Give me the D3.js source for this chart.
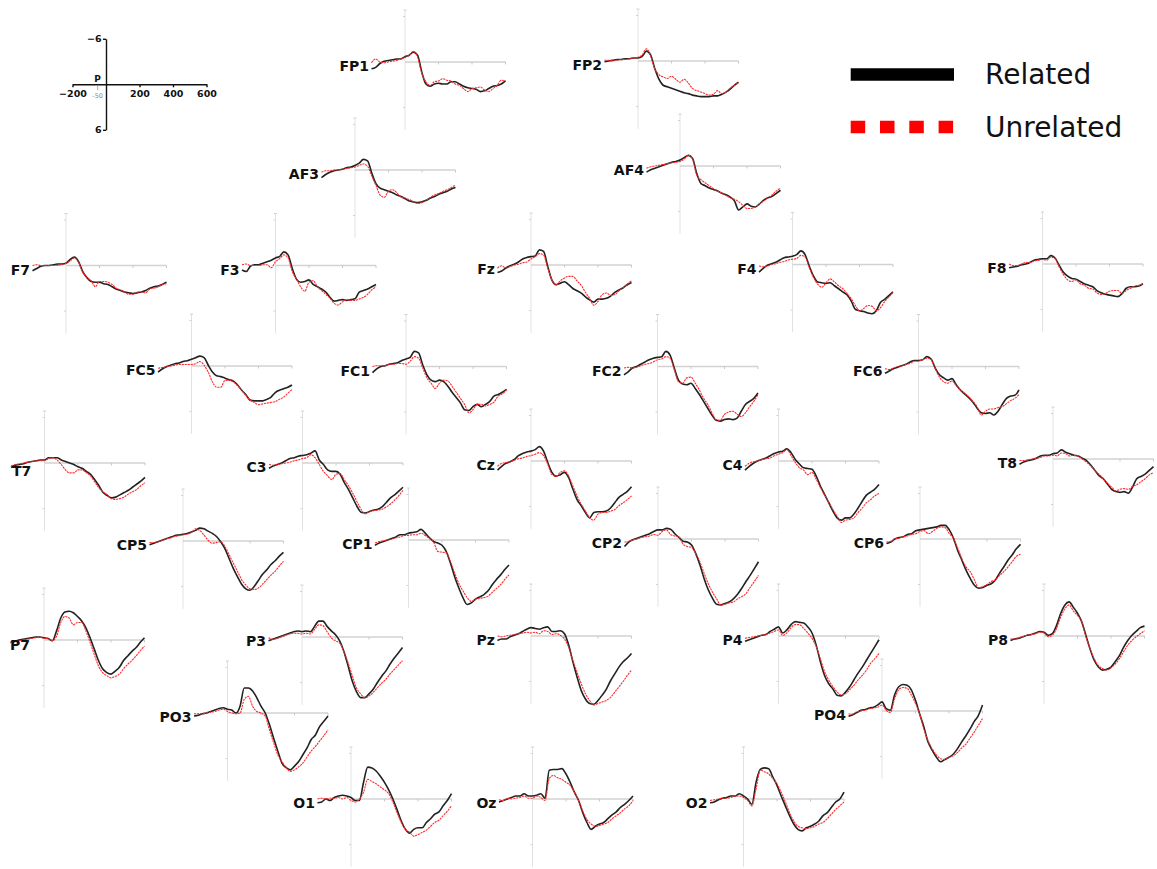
<!DOCTYPE html>
<html>
<head>
<meta charset="utf-8">
<script src="https://cdn.jsdelivr.net/npm/d3@7"></script>
<style>
  html, body { margin: 0; padding: 0; background: #fff; }
  svg { display: block; }
</style>
</head>
<body>
<svg id="chart" width="1157" height="869"></svg>
<script>
// Sampling grid (ms)
const times = [-200, -175, -150, -125, -100, -75, -50, -25, 0, 25, 50, 75, 100, 125, 150, 175, 200,
               225, 250, 275, 300, 325, 350, 375, 400, 425, 450, 475, 500, 525, 550, 575, 600];

const channels = ["FP1", "FP2", "AF3", "AF4", "F7", "F3", "Fz", "F4", "F8", "FC5", "FC1", "FC2", "FC6",
                  "T7", "C3", "Cz", "C4", "T8", "CP5", "CP1", "CP2", "CP6", "P7", "P3", "Pz", "P4", "P8",
                  "PO3", "PO4", "O1", "Oz", "O2"];

const conditions = ["Related", "Unrelated"];

// Grand-average amplitudes (µV), one value per sample in `times`
const rel_FP1 = [0.9, 0.7, 0.2, -0.1, -0.2, -0.3, -0.4, -0.4, -0.7, -0.9, -1.3, -0.9, 1.3, 2.9, 3.2, 2.9, 2.8, 2.9, 2.9, 2.6, 2.6, 2.9, 3.2, 3.4, 3.5, 3.6, 3.9, 3.8, 3.5, 3.2, 3.1, 2.9, 2.5];
const unr_FP1 = [0.1, -0.4, 0, 0.1, 0, -0.1, -0.2, -0.4, -0.6, -0.9, -1.4, -0.7, 1.5, 2.6, 3.1, 2.6, 2.5, 2.2, 2.4, 2.5, 2.9, 3.1, 3.5, 3.9, 3.5, 3.4, 3.3, 3.7, 3.9, 3.5, 3.1, 2.4, 2.5];
const rel_FP2 = [0.1, 0, -0.1, -0.2, -0.2, -0.3, -0.3, -0.4, -0.4, -0.6, -1.3, -0.8, 1.0, 2.4, 3.2, 3.4, 3.6, 3.8, 4.0, 4.2, 4.3, 4.5, 4.6, 4.7, 4.7, 4.7, 4.6, 4.6, 4.4, 4.1, 3.7, 3.2, 2.8];
const unr_FP2 = [-0.1, -0.1, 0, -0.1, -0.2, -0.2, -0.3, -0.4, -0.5, -0.8, -1.6, -0.7, 1.0, 1.8, 2.1, 2.3, 2.0, 2.4, 2.8, 2.4, 2.9, 3.6, 3.9, 4.1, 4.3, 4.5, 4.4, 3.9, 4.3, 4.1, 3.6, 3.2, 2.8];
const rel_AF3 = [1.0, 0.6, 0.3, 0.1, 0, -0.1, -0.3, -0.4, -0.6, -0.9, -1.4, -1.2, 0.4, 1.8, 2.4, 2.6, 2.8, 3.0, 3.3, 3.5, 3.8, 4.1, 4.2, 4.3, 4.2, 4.0, 3.7, 3.5, 3.2, 3.0, 2.8, 2.5, 2.3];
const unr_AF3 = [0.3, 0.1, 0.1, 0, 0, -0.1, -0.2, -0.3, -0.4, -0.6, -0.8, -0.5, 0.8, 2.0, 3.3, 3.6, 2.8, 2.6, 3.0, 3.6, 3.7, 3.9, 4.2, 4.4, 4.3, 4.0, 3.6, 3.3, 3.1, 2.8, 2.6, 2.3, 2.0];
const rel_AF4 = [0.8, 0.5, 0.3, 0.1, -0.1, -0.3, -0.5, -0.6, -0.8, -1.1, -1.4, -1.0, 1.0, 2.3, 2.6, 2.9, 3.1, 3.3, 3.6, 3.8, 4.1, 4.6, 5.8, 5.4, 5.0, 5.3, 5.4, 5.0, 4.5, 4.2, 4.0, 3.6, 3.2];
const unr_AF4 = [0.3, 0.1, 0, -0.1, -0.2, -0.3, -0.4, -0.5, -0.6, -0.9, -1.4, -0.9, 1.2, 1.8, 2.2, 2.6, 3.0, 3.3, 3.6, 3.9, 4.2, 4.4, 4.7, 5.2, 5.6, 5.6, 5.4, 5.0, 4.6, 4.2, 3.8, 3.3, 2.9];
const rel_F7 = [0.7, 0.4, 0.1, 0, 0, -0.1, -0.2, -0.2, -0.3, -0.8, -1.1, -0.5, 0.8, 1.6, 2.1, 2.2, 2.2, 2.4, 2.5, 2.8, 3.1, 3.3, 3.5, 3.6, 3.7, 3.6, 3.5, 3.3, 3.0, 2.8, 2.7, 2.5, 2.2];
const unr_F7 = [0, -0.1, 0, 0, 0, 0, 0, -0.1, -0.3, -0.6, -1.0, -0.4, 0.9, 1.6, 2.0, 2.8, 2.1, 2.1, 2.2, 2.5, 3.0, 3.2, 3.5, 3.8, 3.8, 3.5, 3.5, 3.6, 3.1, 3.0, 2.8, 2.5, 2.4];
const rel_F3 = [0.6, 0.8, 0.1, -0.1, -0.1, -0.3, -0.5, -0.7, -1.0, -1.2, -1.8, -1.4, 0.4, 1.8, 2.2, 2.1, 1.9, 2.5, 2.8, 3.1, 3.5, 4.2, 4.7, 4.6, 4.5, 4.6, 4.5, 4.4, 3.5, 3.3, 3.1, 2.8, 2.5];
const unr_F3 = [-0.1, -0.2, 0, 0, 0, -0.1, -0.1, 0.3, -0.5, -0.9, -1.4, -1.0, 0.8, 1.8, 2.8, 3.4, 2.2, 2.0, 2.8, 3.3, 3.8, 4.3, 5.0, 5.2, 4.8, 4.5, 4.6, 4.6, 4.4, 4.2, 3.8, 3.2, 2.8];
const rel_Fz = [1.0, 0.8, 0.4, 0.1, -0.1, -0.4, -0.8, -1.0, -1.1, -1.2, -2.0, -1.8, 0.2, 2.0, 2.6, 2.4, 2.2, 2.6, 3.1, 3.4, 3.7, 4.2, 4.6, 4.9, 4.5, 4.5, 4.4, 4.1, 3.6, 3.3, 3.0, 2.6, 2.3];
const unr_Fz = [0.4, 0.1, 0.4, 0.2, 0, -0.1, -0.3, -0.4, -0.8, -1.1, -1.5, -1.3, 0.4, 2.0, 2.6, 2.1, 1.7, 1.5, 1.5, 2.1, 2.7, 3.6, 4.4, 5.3, 4.8, 3.9, 3.7, 4.0, 3.9, 3.4, 3.0, 2.5, 2.1];
const rel_F4 = [1.0, 0.5, 0.1, -0.1, -0.3, -0.6, -0.9, -1.0, -1.1, -1.3, -1.8, -1.3, 0.2, 1.5, 2.3, 2.4, 2.5, 2.4, 2.8, 3.2, 3.6, 4.0, 4.8, 5.9, 6.1, 6.2, 6.4, 6.5, 6.1, 5.0, 4.6, 4.1, 3.6];
const unr_F4 = [0.2, 0.3, 0.2, 0, -0.1, -0.3, -0.4, -0.6, -0.7, -0.8, -1.2, -1.0, 0.4, 1.7, 2.6, 3.0, 2.4, 1.9, 2.3, 2.8, 3.2, 3.8, 4.5, 5.4, 6.1, 5.8, 5.4, 5.5, 6.1, 5.7, 4.9, 4.3, 3.7];
const rel_F8 = [0.5, 0.4, 0.3, 0.1, 0, -0.2, -0.5, -0.6, -0.7, -0.7, -1.1, -0.8, 0.2, 1.1, 1.6, 1.9, 2.0, 2.3, 2.6, 2.8, 3.0, 3.5, 3.8, 4.0, 4.1, 4.2, 4.3, 3.9, 3.2, 3.0, 3.0, 2.9, 2.6];
const unr_F8 = [0, 0.2, 0.2, 0, -0.2, -0.2, -0.4, -0.5, -0.6, -0.5, -0.9, -0.7, 0.4, 1.4, 2.1, 2.3, 2.1, 2.6, 2.8, 3.2, 3.3, 3.8, 4.0, 3.9, 3.6, 3.5, 3.5, 3.9, 3.5, 3.2, 2.9, 2.8, 2.6];
const rel_FC5 = [0.8, 0.4, 0.1, -0.1, -0.3, -0.4, -0.6, -0.7, -0.9, -1.1, -1.3, -1.1, -0.1, 0.8, 1.3, 1.4, 1.6, 1.8, 2.0, 2.5, 3.2, 3.8, 4.5, 4.6, 4.6, 4.6, 4.4, 4.1, 3.5, 3.2, 3.0, 2.8, 2.5];
const unr_FC5 = [0.3, 0.2, 0.1, 0, -0.1, -0.2, -0.2, -0.2, -0.2, -0.3, -0.6, -0.1, 0.8, 2.1, 2.8, 2.8, 1.9, 1.9, 2.1, 2.6, 3.2, 3.9, 4.5, 4.8, 5.1, 5.0, 4.9, 4.8, 4.7, 4.4, 4.1, 3.6, 3.1];
const rel_FC1 = [0.8, 0.3, 0, -0.1, -0.3, -0.4, -0.5, -0.8, -1.0, -1.2, -2.0, -1.8, -0.2, 1.1, 1.8, 2.0, 1.8, 2.0, 2.6, 3.4, 4.1, 4.8, 5.7, 5.8, 5.3, 5.0, 5.3, 5.0, 4.6, 3.9, 3.7, 3.4, 3.0];
const unr_FC1 = [0, -0.1, -0.1, -0.1, -0.3, -0.3, -0.4, -0.4, -0.3, -0.7, -1.3, -1.1, 0.2, 1.5, 2.2, 2.9, 2.2, 1.8, 1.9, 2.6, 3.4, 4.2, 5.0, 6.1, 5.7, 5.0, 5.0, 5.2, 5.0, 4.7, 3.9, 3.6, 3.1];
const rel_FC2 = [1.1, 0.7, 0.2, 0, -0.3, -0.6, -0.9, -1.1, -1.2, -1.3, -2.0, -1.5, 0.2, 1.8, 2.3, 2.4, 2.2, 2.9, 3.7, 4.6, 5.5, 6.4, 7.1, 7.2, 7.0, 6.9, 7.0, 6.8, 5.9, 5.0, 4.6, 4.2, 3.5];
const unr_FC2 = [0.2, 0.1, 0.2, 0.1, -0.1, -0.3, -0.4, -0.6, -0.9, -1.0, -1.3, -1.1, 0.4, 2.0, 2.2, 1.5, 1.4, 2.2, 3.1, 4.2, 5.0, 6.1, 7.0, 7.1, 6.3, 6.0, 5.9, 6.3, 6.6, 6.1, 5.3, 4.6, 3.7];
const rel_FC6 = [0.9, 0.6, 0.3, 0.1, -0.1, -0.3, -0.6, -0.8, -0.8, -0.9, -1.3, -1.0, 0.2, 1.1, 1.5, 1.8, 1.6, 2.4, 3.1, 3.6, 4.1, 4.7, 5.5, 6.1, 6.2, 6.1, 6.4, 5.9, 5.0, 4.2, 3.9, 3.8, 3.1];
const unr_FC6 = [0.3, 0.4, 0.2, 0, -0.1, -0.3, -0.4, -0.7, -0.7, -0.9, -1.1, -0.9, 0.3, 1.4, 2.0, 2.2, 1.9, 2.5, 3.1, 3.5, 4.0, 4.6, 5.3, 6.4, 5.9, 5.6, 5.6, 5.4, 5.3, 4.9, 4.5, 4.2, 3.7];
const rel_T7 = [0.6, 0.3, 0.2, 0.1, -0.1, -0.2, -0.3, -0.4, -0.4, -0.7, -0.7, -0.7, -0.4, -0.2, 0, 0.2, 0.5, 0.7, 1.1, 1.5, 2.2, 3.0, 3.9, 4.3, 4.6, 4.5, 4.2, 3.9, 3.6, 3.2, 2.8, 2.4, 1.9];
const unr_T7 = [0.4, 0.2, 0.1, 0, -0.1, -0.2, -0.3, -0.3, -0.3, -0.6, -0.7, -0.4, 0.2, 0.9, 1.3, 1.3, 0.9, 0.9, 1.3, 1.7, 2.5, 3.3, 3.8, 4.2, 4.7, 4.8, 4.7, 4.5, 4.1, 3.8, 3.5, 3.0, 2.6];
const rel_C3 = [0.7, 0.4, 0.2, 0, -0.3, -0.6, -0.7, -0.9, -1.0, -1.1, -1.3, -1.6, -0.4, 0.2, 0.9, 1.1, 1.1, 1.5, 2.6, 3.5, 4.6, 5.7, 6.5, 6.6, 6.4, 6.2, 6.1, 5.8, 5.2, 4.6, 4.2, 3.7, 3.2];
const unr_C3 = [0.2, 0.3, 0.2, 0.1, 0, -0.1, -0.3, -0.4, -0.6, -0.7, -1.1, -0.7, 0.2, 1.1, 1.7, 2.2, 1.5, 1.4, 2.2, 3.0, 4.0, 5.1, 6.1, 6.7, 6.4, 6.3, 6.2, 6.1, 5.8, 5.4, 4.9, 4.3, 3.6];
const rel_Cz = [1.2, 0.7, 0.3, 0.1, -0.2, -0.7, -1.0, -1.2, -1.3, -1.5, -1.9, -1.3, 0.2, 1.5, 2.0, 1.8, 1.5, 2.2, 3.7, 5.1, 5.9, 6.8, 7.5, 6.8, 6.7, 6.7, 6.6, 6.2, 5.5, 4.8, 4.4, 4.0, 3.4];
const unr_Cz = [0.7, 0.3, 0.2, 0.1, -0.1, -0.3, -0.4, -0.6, -0.7, -0.9, -1.1, -0.7, 0.4, 1.8, 2.0, 1.5, 1.3, 2.0, 3.3, 4.6, 5.7, 6.6, 7.5, 7.8, 7.0, 6.8, 6.8, 6.6, 6.4, 5.9, 5.5, 5.1, 4.6];
const rel_C4 = [1.2, 0.7, 0.3, 0, -0.2, -0.4, -0.7, -1.0, -1.2, -1.3, -1.6, -1.1, -0.2, 0.4, 0.9, 1.0, 1.1, 2.0, 3.3, 4.4, 5.5, 6.6, 7.5, 7.8, 7.5, 7.5, 7.0, 6.2, 5.3, 4.5, 4.1, 3.7, 3.1];
const unr_C4 = [0.7, 0.3, 0.1, 0, -0.2, -0.3, -0.4, -0.7, -0.9, -1.1, -1.5, -0.7, 0.2, 0.9, 1.2, 1.8, 1.5, 2.4, 3.5, 4.5, 5.4, 6.4, 7.3, 8.1, 7.8, 7.7, 7.5, 6.8, 6.2, 5.5, 5.1, 4.6, 4.3];
const rel_T8 = [0.7, 0.4, 0.2, 0.1, -0.1, -0.4, -0.5, -0.5, -0.7, -0.8, -1.2, -0.9, -0.7, -0.5, -0.4, -0.1, 0.2, 0.8, 1.5, 2.2, 2.6, 3.3, 4.0, 4.3, 4.4, 4.3, 4.5, 3.7, 2.6, 2.3, 2.0, 1.5, 1.0];
const unr_T8 = [0.2, 0.2, 0.1, 0, -0.1, -0.2, -0.4, -0.4, -0.5, -0.4, -0.8, -0.7, -0.4, -0.5, -0.4, 0, 0.4, 0.9, 1.5, 2.0, 2.6, 3.2, 3.7, 4.2, 4.0, 3.9, 4.0, 3.6, 3.4, 3.0, 2.6, 2.1, 1.8];
const rel_CP5 = [0.5, 0.3, 0.1, -0.1, -0.3, -0.5, -0.7, -0.8, -0.9, -1.0, -1.2, -1.4, -1.7, -1.6, -1.3, -1.0, -0.6, 0.1, 1.0, 2.3, 3.6, 4.7, 5.7, 6.3, 6.5, 6.0, 5.2, 4.4, 3.8, 3.1, 2.6, 2.0, 1.5];
const unr_CP5 = [0.2, 0.2, 0.1, -0.1, -0.3, -0.4, -0.6, -0.7, -0.8, -0.9, -1.1, -1.6, -1.4, -0.8, -0.1, 0.3, 0.2, 0.1, 0.7, 1.8, 2.9, 4.0, 5.1, 5.8, 6.3, 6.4, 6.2, 5.7, 5.1, 4.5, 4.0, 3.3, 2.7];
const rel_CP1 = [0.7, 0.4, 0.2, 0, -0.2, -0.4, -0.7, -0.7, -0.9, -1.0, -1.1, -1.4, -0.9, -0.3, 0.2, 0.4, 0.7, 1.5, 3.0, 4.8, 6.3, 7.6, 8.5, 8.3, 7.8, 7.5, 7.2, 6.7, 5.9, 5.2, 4.6, 3.9, 3.3];
const unr_CP1 = [0.4, 0.2, 0.1, 0, -0.1, -0.3, -0.4, -0.6, -0.6, -0.7, -0.7, -0.9, -0.6, -0.2, 0.3, 1.5, 1.6, 1.7, 2.8, 4.3, 5.7, 6.7, 7.6, 8.1, 7.8, 7.7, 7.6, 7.4, 6.9, 6.4, 5.9, 5.2, 4.6];
const rel_CP2 = [1.0, 0.4, 0.1, -0.1, -0.3, -0.5, -0.7, -1.0, -1.2, -1.2, -1.4, -1.3, -0.7, -0.2, 0.3, 0.4, 0.8, 1.9, 3.4, 5.2, 6.7, 7.8, 8.6, 8.7, 8.5, 8.3, 7.9, 7.3, 6.5, 5.6, 4.8, 3.9, 3.0];
const unr_CP2 = [0.4, 0.3, 0.1, 0, -0.2, -0.3, -0.4, -0.6, -0.5, -1.0, -1.2, -0.6, -0.4, -0.3, 0.7, 1.0, 1.1, 1.9, 3.0, 4.5, 5.9, 7.0, 7.9, 8.7, 8.6, 8.4, 8.3, 7.9, 7.6, 7.2, 6.4, 5.6, 4.8];
const rel_CP6 = [0.6, 0.4, 0, -0.2, -0.3, -0.6, -0.7, -1.1, -1.2, -1.3, -1.4, -1.5, -1.6, -1.8, -1.8, -1.2, -0.1, 1.5, 2.8, 4.1, 5.2, 6.1, 6.5, 6.4, 6.1, 5.9, 5.4, 4.5, 3.7, 2.8, 2.1, 1.3, 0.7];
const unr_CP6 = [0.4, 0.3, 0, -0.1, -0.3, -0.4, -0.6, -0.7, -1.0, -1.1, -0.7, -1.0, -1.4, -1.6, -1.5, -0.7, -0.1, 1.2, 2.6, 3.7, 4.3, 5.4, 6.4, 6.3, 6.0, 5.6, 5.4, 4.8, 4.3, 3.7, 3.0, 2.3, 2.0];
const rel_P7 = [0.3, 0.2, 0, -0.1, -0.2, -0.3, -0.4, -0.4, -0.3, -0.2, 0.1, -1.2, -2.9, -3.7, -3.8, -3.6, -3.1, -2.5, -1.6, -0.3, 1.2, 2.7, 3.8, 4.3, 4.5, 4.1, 3.6, 2.7, 2.1, 1.5, 1.0, 0.3, -0.3];
const unr_P7 = [0.4, 0.2, 0.1, 0, -0.1, -0.2, -0.3, -0.4, -0.2, -0.2, 0.1, -0.5, -2.3, -3.1, -2.9, -2.0, -2.3, -2.3, -1.2, 0.3, 1.9, 3.4, 4.3, 4.7, 5.0, 4.8, 4.5, 3.8, 3.2, 2.7, 2.1, 1.4, 0.8];
const rel_P3 = [0.5, 0.3, 0.1, -0.1, -0.3, -0.5, -0.7, -0.8, -0.7, -0.8, -0.7, -1.4, -2.1, -2.1, -1.4, -0.8, -0.3, 0.5, 1.9, 3.8, 5.8, 7.2, 8.0, 8.0, 7.5, 6.9, 6.0, 5.2, 4.5, 3.6, 2.8, 2.1, 1.4];
const unr_P3 = [0.1, 0.3, 0.2, 0, -0.2, -0.4, -0.5, -0.5, -0.4, -0.5, -0.4, -1.0, -1.6, -1.5, -0.7, 0.1, 0.5, 0.8, 1.9, 3.4, 5.1, 6.7, 7.5, 8.0, 7.8, 7.3, 6.7, 6.1, 5.6, 4.9, 4.3, 3.7, 3.1];
const rel_Pz = [0.6, 0.4, 0.4, 0.1, -0.1, -0.3, -0.6, -0.9, -1.1, -1.0, -0.9, -1.1, -1.2, -0.6, -0.6, -0.7, -0.3, 1.2, 3.4, 5.4, 7.2, 8.3, 8.9, 9.0, 8.5, 7.8, 7.0, 5.9, 5.0, 4.1, 3.4, 2.9, 2.3];
const unr_Pz = [0, 0.1, 0, -0.1, -0.2, -0.3, -0.4, -0.5, -0.4, -0.5, -0.3, -0.7, -0.6, -0.2, -0.3, -0.1, 0.4, 1.5, 3.2, 4.8, 6.3, 7.6, 8.5, 9.1, 8.9, 8.7, 8.5, 8.1, 7.4, 6.7, 6.0, 5.2, 4.5];
const rel_P4 = [0.7, 0.5, 0.3, 0.1, -0.1, -0.2, -0.6, -0.9, -1.2, -0.4, -0.8, -1.5, -1.9, -1.8, -1.7, -1.2, -0.4, 1.2, 3.4, 5.2, 6.3, 7.0, 7.8, 7.9, 7.4, 6.7, 5.8, 4.9, 4.1, 3.2, 2.3, 1.4, 0.5];
const unr_P4 = [0.3, 0.2, 0.1, 0, -0.1, -0.2, -0.4, -0.6, -0.8, -0.1, -0.4, -1.1, -1.5, -1.5, -1.0, -0.4, 0.3, 1.4, 3.0, 4.7, 5.8, 6.7, 7.4, 7.8, 7.6, 7.1, 6.5, 5.8, 5.2, 4.5, 3.6, 3.0, 2.3];
const rel_P8 = [0.6, 0.4, 0.3, 0.1, -0.1, -0.2, -0.4, -0.6, -0.5, -0.1, -0.3, -1.4, -3.0, -4.1, -4.5, -3.8, -3.0, -1.9, -0.1, 1.7, 3.2, 4.1, 4.5, 4.4, 4.1, 3.4, 2.6, 1.5, 0.6, -0.1, -0.6, -1.1, -1.3];
const unr_P8 = [0.4, 0.4, 0.2, 0.1, -0.1, -0.2, -0.3, -0.5, -0.4, 0.1, -0.1, -1.0, -2.5, -3.6, -4.1, -3.3, -2.7, -1.9, 0.1, 1.7, 3.0, 3.9, 4.3, 4.5, 4.2, 3.7, 3.0, 2.1, 1.2, 0.6, 0.1, -0.3, -0.7];
const rel_PO3 = [0.4, 0.3, 0.1, 0, -0.2, -0.4, -0.6, -0.7, -0.5, -0.4, 0, -0.9, -3.3, -3.3, -2.9, -2.0, -0.9, 0, 1.5, 3.3, 5.0, 6.6, 7.2, 7.5, 7.0, 6.4, 5.5, 4.6, 3.5, 2.9, 1.8, 1.1, 0.4];
const unr_PO3 = [0.1, 0.1, 0.1, 0, -0.1, -0.2, -0.4, -0.5, -0.2, 0, 0.1, 0, -1.8, -2.2, -0.9, -0.2, 0, 0.4, 2.2, 3.9, 5.5, 6.4, 7.2, 7.7, 7.5, 7.1, 6.6, 5.8, 5.0, 4.4, 3.7, 3.0, 2.2];
const rel_PO4 = [0.7, 0.5, 0.2, -0.1, -0.2, -0.4, -0.5, -0.8, -1.2, -0.3, -0.1, -2.1, -3.2, -3.5, -3.4, -2.8, -1.4, 0.4, 2.1, 4.1, 5.2, 6.1, 6.7, 6.4, 6.1, 5.7, 5.0, 4.1, 3.3, 2.4, 1.4, 0.6, -0.8];
const unr_PO4 = [0.4, 0.4, 0.1, 0, -0.1, -0.3, -0.4, -0.5, -0.8, -0.1, 0.2, -1.6, -2.8, -3.1, -3.0, -2.1, -1.0, 0.4, 2.4, 3.9, 5.0, 5.8, 6.3, 6.4, 6.1, 5.9, 5.5, 4.9, 4.4, 3.6, 2.8, 1.9, 1.0];
const rel_O1 = [0.5, 0.4, 0, 0.2, -0.2, -0.4, -0.5, -0.4, -0.2, 0.2, 0.2, -2.2, -4.2, -4.1, -3.7, -3.0, -2.2, -1.2, 0, 1.4, 2.9, 4.0, 4.5, 4.0, 3.8, 3.8, 3.1, 2.6, 2.0, 1.7, 0.9, 0.2, -0.7];
const unr_O1 = [0, -0.1, 0, -0.1, -0.1, -0.2, 0, -0.2, 0.2, 0.4, 0, -0.9, -2.6, -2.3, -2.0, -1.6, -1.2, -0.7, 0.4, 1.8, 3.1, 4.0, 4.4, 4.9, 4.7, 4.4, 4.1, 3.6, 3.1, 2.8, 2.2, 1.6, 0.9];
const rel_Oz = [0.4, 0.2, 0, -0.2, -0.4, -0.4, -0.7, -0.4, -0.4, -0.5, -0.7, -0.1, -3.8, -3.9, -3.9, -4.0, -3.3, -2.2, -0.9, 0.2, 1.8, 3.1, 4.0, 3.6, 3.3, 3.1, 2.6, 2.1, 1.7, 1.1, 0.7, 0.2, -0.4];
const unr_Oz = [0.1, 0.2, -0.1, 0, -0.1, -0.2, -0.4, -0.1, -0.1, -0.4, -0.2, 0.2, -2.7, -3.1, -2.8, -2.6, -2.2, -1.8, -0.9, 0.2, 1.6, 2.7, 3.3, 3.6, 3.5, 3.3, 3.1, 2.6, 2.2, 1.8, 1.3, 0.9, 0.2];
const rel_O2 = [0.5, 0.4, 0.1, -0.1, -0.2, -0.4, -0.4, -0.7, -0.4, 0, 0.7, -2.2, -3.9, -4.1, -4.0, -2.9, -1.8, -0.4, 0.9, 2.2, 3.3, 4.0, 4.2, 3.8, 3.6, 3.3, 2.9, 2.2, 1.8, 1.1, 0.4, 0, -0.9];
const unr_O2 = [0.2, 0.1, 0, -0.1, -0.1, -0.2, -0.4, -0.4, -0.2, 0.2, 0.9, -1.3, -3.8, -3.6, -3.3, -2.7, -2.0, -0.9, 0.4, 1.8, 2.9, 3.6, 3.8, 3.9, 3.8, 3.6, 3.3, 3.1, 2.6, 2.0, 1.4, 0.9, 0.4];

// Scale-legend tick labels
const timeTicks = [-200, 200, 400, 600];
const voltTicks = [-6, 6];

const related = {
  FP1: rel_FP1, FP2: rel_FP2, AF3: rel_AF3, AF4: rel_AF4, F7: rel_F7, F3: rel_F3, Fz: rel_Fz, F4: rel_F4, F8: rel_F8,
  FC5: rel_FC5, FC1: rel_FC1, FC2: rel_FC2, FC6: rel_FC6, T7: rel_T7, C3: rel_C3, Cz: rel_Cz, C4: rel_C4, T8: rel_T8,
  CP5: rel_CP5, CP1: rel_CP1, CP2: rel_CP2, CP6: rel_CP6, P7: rel_P7, P3: rel_P3, Pz: rel_Pz, P4: rel_P4, P8: rel_P8,
  PO3: rel_PO3, PO4: rel_PO4, O1: rel_O1, Oz: rel_Oz, O2: rel_O2
};
const unrelated = {
  FP1: unr_FP1, FP2: unr_FP2, AF3: unr_AF3, AF4: unr_AF4, F7: unr_F7, F3: unr_F3, Fz: unr_Fz, F4: unr_F4, F8: unr_F8,
  FC5: unr_FC5, FC1: unr_FC1, FC2: unr_FC2, FC6: unr_FC6, T7: unr_T7, C3: unr_C3, Cz: unr_Cz, C4: unr_C4, T8: unr_T8,
  CP5: unr_CP5, CP1: unr_CP1, CP2: unr_CP2, CP6: unr_CP6, P7: unr_P7, P3: unr_P3, Pz: unr_Pz, P4: unr_P4, P8: unr_P8,
  PO3: unr_PO3, PO4: unr_PO4, O1: unr_O1, Oz: unr_Oz, O2: unr_O2
};

// Scalp layout: page position of each channel's origin (0 ms, 0 µV)
const layout = {
  FP1: [405, 62], FP2: [638, 61], AF3: [355, 170], AF4: [680, 166],
  F7: [66, 265.5], F3: [275.5, 265.5], Fz: [531, 265], F4: [792.5, 264.5], F8: [1042.5, 264],
  FC5: [191.5, 366], FC1: [406, 366.5], FC2: [657.5, 366.5], FC6: [918.5, 366.5],
  T7: [44.5, 463], C3: [302.5, 463], Cz: [531, 461], C4: [778.5, 461], T8: [1053, 459],
  CP5: [183, 541], CP1: [408.5, 540], CP2: [658, 539], CP6: [920, 539],
  P7: [44, 640], P3: [302, 637], Pz: [531, 636], P4: [778.5, 636], P8: [1044, 636],
  PO3: [227.5, 713], PO4: [882, 711],
  O1: [351, 799], Oz: [532.5, 799], O2: [743.5, 799]
};
// Edge channels whose name sits under the trace instead of to its left
const labelBelow = { T7: [12, 13], P7: [10, 10] };

const svg = d3.select("#chart");
svg.append("rect").attr("width", 1157).attr("height", 869).attr("fill", "#fff");

// Shared scales for every mini plot (negative up)
const x = d3.scaleLinear().domain([-200, 600]).range([-33.5, 100.5]);
const y = d3.scaleLinear().domain([-6, 6]).range([-45.5, 45.5]);

const line = d3.line()
  .x((d, i) => x(times[i]))
  .y(d => y(d))
  .curve(d3.curveMonotoneX);

const table = channels.map(name => ({
  name,
  pos: layout[name],
  series: [
    { cond: conditions[0], values: related[name] },
    { cond: conditions[1], values: unrelated[name] }
  ]
}));

const plots = svg.selectAll("g.channel")
  .data(table)
  .join("g")
  .attr("class", "channel")
  .attr("transform", d => `translate(${d.pos[0]},${d.pos[1]})`);

// vertical (amplitude) axis
plots.append("line")
  .attr("x1", x(0)).attr("x2", x(0))
  .attr("y1", y(-6.85)).attr("y2", y(8.95))
  .attr("stroke", "#e2e2e2").attr("stroke-width", 1);
plots.each(function () {
  const g = d3.select(this);
  [-6, 6].forEach(v => g.append("line")
    .attr("x1", x(0) - 2).attr("x2", x(0))
    .attr("y1", y(v)).attr("y2", y(v))
    .attr("stroke", "#d0d0d0").attr("stroke-width", 1));
  g.append("line")
    .attr("x1", x(0) - 1.5).attr("x2", x(0) + 1.5)
    .attr("y1", y(-6.85)).attr("y2", y(-6.85))
    .attr("stroke", "#d0d0d0").attr("stroke-width", 1);
});

// horizontal (time) axis, post-stimulus only
plots.append("line")
  .attr("x1", x(0)).attr("x2", x(600))
  .attr("y1", 0).attr("y2", 0)
  .attr("stroke", "#d2d2d2").attr("stroke-width", 1.6);
plots.each(function () {
  const g = d3.select(this);
  [200, 400, 600].forEach(t => g.append("line")
    .attr("x1", x(t)).attr("x2", x(t))
    .attr("y1", 0).attr("y2", 2.5)
    .attr("stroke", "#c8c8c8").attr("stroke-width", 1));
});

// ERP traces
plots.selectAll("path.trace")
  .data(d => d.series)
  .join("path")
  .attr("class", "trace")
  .attr("fill", "none")
  .attr("d", d => line(d.values))
  .attr("stroke", d => d.cond === "Related" ? "#222" : "#ff2a2a")
  .attr("stroke-width", d => d.cond === "Related" ? 1.6 : 1.1)
  .attr("stroke-dasharray", d => d.cond === "Related" ? null : "2.2,0.8")
  .attr("stroke-linejoin", "round");

// channel names
plots.append("text")
  .text(d => d.name)
  .attr("x", d => labelBelow[d.name] ? labelBelow[d.name][0] - d.pos[0] : x(-200) - 2.5)
  .attr("y", d => labelBelow[d.name] ? labelBelow[d.name][1] : 9)
  .attr("text-anchor", d => labelBelow[d.name] ? "start" : "end")
  .attr("font-family", "'DejaVu Sans', sans-serif")
  .attr("font-weight", "bold")
  .attr("font-size", 14)
  .attr("fill", "#111");

// Scale legend (top-left)
const scale = svg.append("g").attr("transform", "translate(106,84.3)");
const xAxis = d3.axisBottom(x).tickValues(timeTicks).tickSize(3).tickSizeOuter(0).tickPadding(3);
const yAxis = d3.axisLeft(y).tickValues(voltTicks).tickSize(3).tickSizeOuter(0).tickPadding(1.5);
scale.append("g").call(xAxis);
scale.append("g").call(yAxis);
scale.selectAll(".domain, .tick line").attr("stroke", "#111").attr("stroke-width", 1.4);
scale.selectAll(".tick text")
  .attr("font-family", "'DejaVu Sans', sans-serif")
  .attr("font-weight", "bold")
  .attr("font-size", 9.5)
  .attr("fill", "#111");
// pre-stimulus marker
scale.append("line")
  .attr("x1", x(-50)).attr("x2", x(-50))
  .attr("y1", 1.5).attr("y2", 6)
  .attr("stroke", "#999").attr("stroke-width", 0.8);
scale.append("text").text("P")
  .attr("x", x(-50)).attr("y", -2.5)
  .attr("text-anchor", "middle")
  .attr("font-family", "'DejaVu Sans', sans-serif")
  .attr("font-weight", "bold").attr("font-size", 9).attr("fill", "#111");
scale.append("text").text("-50")
  .attr("x", x(-50)).attr("y", 13.5)
  .attr("text-anchor", "middle")
  .attr("font-family", "'DejaVu Sans', sans-serif")
  .attr("font-size", 6.5).attr("fill", "#888");

// Condition legend (top-right)
const legend = svg.append("g");
const legendRows = [
  { cond: conditions[0], y: 74.5, color: "#000", dash: null },
  { cond: conditions[1], y: 127, color: "#ff0000", dash: "14.5,14.8" }
];
legend.selectAll("line")
  .data(legendRows)
  .join("line")
  .attr("x1", 850.7).attr("x2", 954)
  .attr("y1", d => d.y).attr("y2", d => d.y)
  .attr("stroke", d => d.color)
  .attr("stroke-width", 12.5)
  .attr("stroke-dasharray", d => d.dash);
legend.selectAll("text")
  .data(legendRows)
  .join("text")
  .text(d => d.cond)
  .attr("x", 985)
  .attr("y", d => d.y + 9.5)
  .attr("font-family", "'DejaVu Sans', sans-serif")
  .attr("font-size", 28)
  .attr("fill", "#111");
</script>
</body>
</html>
